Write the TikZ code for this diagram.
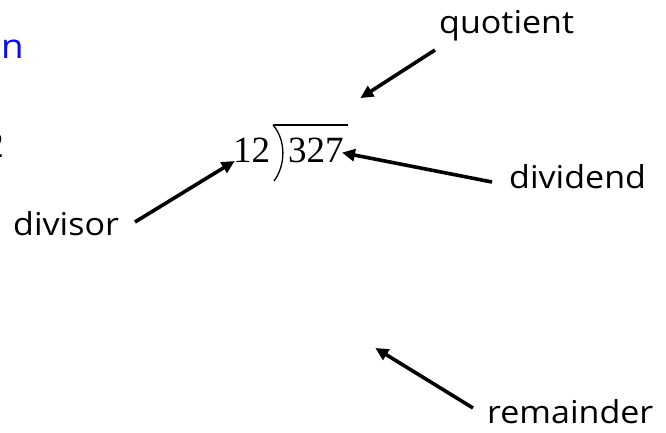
\documentclass[tikz,border=0pt]{standalone}
\usepackage{fontspec}
\setmainfont{Liberation Serif}
\newfontfamily\labelfont[FakeStretch=1.08]{Open Sans}
\usetikzlibrary{arrows.meta}
\definecolor{titleblue}{RGB}{10,10,245}
\tikzset{
  lbl/.style={font=\labelfont\fontsize{31.5}{35}\selectfont, inner sep=0pt, anchor=base west},
  num/.style={font=\fontsize{37}{40}\selectfont, inner sep=0pt, anchor=base west},
  pointer/.style={line width=3.6pt, -{Triangle[length=13pt,width=12pt]}, shorten >=-2pt}
}
\begin{document}
\begin{tikzpicture}[x=1pt,y=-1pt]
  \useasboundingbox (0,0) rectangle (666,432);
  \clip (0,0) rectangle (666,432);

  % fragments at the left edge
  \node[lbl, text=titleblue, font=\labelfont\fontsize{34}{38}\selectfont] (title) at (1,58) {n};
  \node[num, anchor=base east] (frag) at (4,157) {2};

  % the long division 12 ) 327
  \node[num] (divisor) at (233,162) {12};
  \node[num] (dividend) at (288,162) {327};
  \coordinate (bartop) at (273,125);
  \draw[line width=1.3pt] (bartop) .. controls (286,140) and (286,165) .. (274,181);
  \draw[line width=1.3pt] (bartop) -- (348,125);

  % labels
  \node[lbl] (q) at (439,33) {quotient};
  \node[lbl] (dv) at (13,235) {divisor};
  \node[lbl] (dd) at (509,188) {dividend};
  \node[lbl] (rm) at (487,423) {remainder};

  % pointers
  \coordinate (qtail) at (435,50);
  \coordinate (qtip) at (362,97);
  \coordinate (dvtail) at (135,222);
  \coordinate (ddtail) at (492,182);
  \coordinate (rtail) at (473,408);
  \coordinate (rtip) at (377,349);
  \draw[pointer] (qtail) -- (qtip);
  \draw[pointer] (dvtail) -- (divisor.west |- 0,162);
  \draw[pointer] (ddtail) -- (dividend.east |- 0,153);
  \draw[pointer] (rtail) -- (rtip);
\end{tikzpicture}
\end{document}
